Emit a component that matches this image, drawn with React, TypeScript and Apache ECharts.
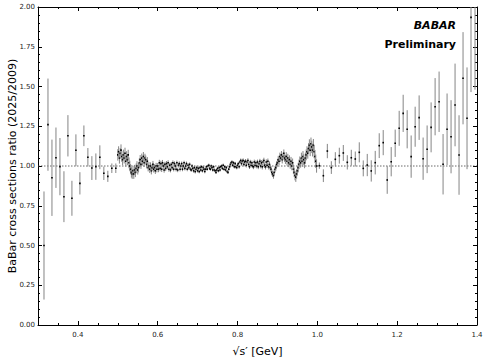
import React, { useEffect, useRef } from "react";
import * as echarts from "echarts";

// Low-mass region (sparse points)
const lowX = [0.315, 0.325, 0.335, 0.345, 0.355, 0.365, 0.375, 0.385, 0.395, 0.405, 0.415, 0.425, 0.435, 0.445, 0.455, 0.465, 0.475, 0.485, 0.495];
const lowY = [0.50, 1.26, 0.926, 1.052, 0.996, 0.807, 1.19, 0.797, 1.099, 0.891, 1.19, 1.055, 0.987, 0.996, 1.055, 0.954, 0.935, 0.986, 0.986];
const lowErr = [0.34, 0.29, 0.24, 0.19, 0.18, 0.16, 0.13, 0.11, 0.10, 0.07, 0.065, 0.058, 0.075, 0.083, 0.075, 0.042, 0.035, 0.03, 0.03];

// Dense region (0.500 .. 0.998, bins of 0.002)
const denseStart = 0.5;
const denseStep = 0.002;
const denseY = [
  1.07, 1.09, 1.05, 1.08, 1.10, 1.06, 1.04, 1.07, 1.05, 1.08,
  1.03, 1.06, 1.04, 1.07, 1.02, 1.00, 0.98, 0.96, 0.95, 0.97,
  0.95, 0.975, 0.96, 0.985, 1.00, 0.975, 0.99, 1.02, 1.04, 1.01,
  1.05, 1.03, 1.06, 1.02, 1.05, 1.04, 1.01, 1.03, 0.99, 1.00,
  0.98, 1.00, 0.97, 0.99, 1.01, 0.98, 0.99, 0.97, 1.00, 0.98,
  1.00, 0.98, 1.02, 0.985, 1.015, 0.98, 1.02, 1.00, 0.975, 1.01,
  0.985, 1.015, 0.995, 1.02, 0.98, 1.005, 0.975, 1.01, 0.99, 1.02,
  0.98, 1.015, 1.00, 0.98, 1.02, 0.975, 1.005, 1.015, 0.98, 1.00,
  1.015, 0.98, 1.00, 1.02, 0.985, 1.00, 1.015, 0.98, 1.005, 0.99,
  1.01, 0.98, 0.975, 1.00, 0.985, 0.97, 0.99, 0.965, 0.98, 0.99,
  0.97, 0.985, 0.965, 0.99, 0.975, 0.995, 0.97, 0.99, 0.98, 0.965,
  0.98, 0.995, 0.98, 1.00, 1.005, 0.985, 0.98, 1.00, 0.99, 0.975,
  0.995, 0.975, 0.97, 0.96, 0.975, 0.985, 0.97, 0.99, 0.975, 0.995,
  1.00, 0.985, 1.005, 0.98, 0.995, 0.975, 0.99, 0.965, 0.96, 0.98,
  0.995, 1.01, 1.02, 1.025, 1.005, 1.02, 0.995, 1.015, 0.995, 0.99,
  1.005, 1.015, 0.995, 1.025, 1.035, 1.015, 1.03, 1.035, 1.01, 1.025,
  1.03, 1.005, 1.025, 1.035, 1.01, 0.995, 1.025, 1.005, 1.02, 1.00,
  0.995, 1.025, 1.005, 1.02, 1.00, 1.025, 0.995, 1.015, 1.03, 1.00,
  1.02, 0.995, 1.025, 1.035, 1.005, 0.995, 1.025, 1.005, 1.03, 0.995,
  1.01, 0.99, 0.98, 0.96, 0.95, 0.94, 0.96, 0.98, 0.99, 1.01,
  1.02, 1.04, 1.03, 1.06, 1.05, 1.07, 1.04, 1.06, 1.08, 1.05,
  1.04, 1.06, 1.03, 1.05, 1.02, 1.04, 1.01, 1.03, 1.00, 1.02,
  0.98, 0.96, 0.94, 0.93, 0.95, 0.97, 0.99, 1.01, 1.03, 1.02,
  1.05, 1.03, 1.06, 1.04, 1.02, 1.05, 1.07, 1.09, 1.08, 1.11,
  1.13, 1.10, 1.14, 1.12, 1.10, 1.13, 1.09, 1.06, 1.03, 1.00,
];
const denseErr = [
  0.036, 0.034, 0.035, 0.033, 0.036, 0.034, 0.035, 0.033, 0.034, 0.035,
  0.034, 0.033, 0.035, 0.032, 0.034, 0.033, 0.032, 0.033, 0.031, 0.032,
  0.031, 0.032, 0.03, 0.031, 0.03, 0.029, 0.03, 0.028, 0.029, 0.028,
  0.028, 0.027, 0.028, 0.026, 0.027, 0.026, 0.025, 0.026, 0.024, 0.025,
  0.024, 0.023, 0.023, 0.022, 0.022, 0.021, 0.021, 0.02, 0.02, 0.02,
  0.019, 0.019, 0.019, 0.018, 0.018, 0.018, 0.018, 0.017, 0.017, 0.017,
  0.017, 0.016, 0.016, 0.016, 0.016, 0.015, 0.015, 0.015, 0.015, 0.015,
  0.014, 0.014, 0.014, 0.014, 0.014, 0.014, 0.014, 0.014, 0.014, 0.014,
  0.013, 0.013, 0.013, 0.013, 0.013, 0.013, 0.013, 0.013, 0.013, 0.013,
  0.012, 0.012, 0.012, 0.012, 0.012, 0.012, 0.012, 0.012, 0.012, 0.012,
  0.011, 0.011, 0.011, 0.011, 0.011, 0.011, 0.011, 0.011, 0.011, 0.011,
  0.01, 0.01, 0.01, 0.01, 0.01, 0.01, 0.01, 0.01, 0.01, 0.01,
  0.01, 0.01, 0.01, 0.01, 0.01, 0.01, 0.01, 0.01, 0.01, 0.01,
  0.01, 0.01, 0.01, 0.01, 0.01, 0.01, 0.01, 0.01, 0.01, 0.01,
  0.011, 0.011, 0.011, 0.011, 0.011, 0.011, 0.011, 0.011, 0.011, 0.011,
  0.012, 0.012, 0.012, 0.012, 0.012, 0.013, 0.013, 0.013, 0.013, 0.013,
  0.014, 0.014, 0.014, 0.014, 0.014, 0.014, 0.014, 0.014, 0.014, 0.014,
  0.015, 0.015, 0.015, 0.015, 0.015, 0.015, 0.015, 0.015, 0.015, 0.015,
  0.017, 0.017, 0.017, 0.017, 0.017, 0.017, 0.017, 0.017, 0.017, 0.017,
  0.019, 0.019, 0.019, 0.019, 0.019, 0.02, 0.02, 0.02, 0.02, 0.02,
  0.024, 0.024, 0.024, 0.024, 0.024, 0.024, 0.024, 0.024, 0.024, 0.024,
  0.027, 0.027, 0.027, 0.027, 0.027, 0.027, 0.027, 0.027, 0.027, 0.027,
  0.03, 0.03, 0.03, 0.03, 0.03, 0.03, 0.03, 0.03, 0.03, 0.03,
  0.034, 0.034, 0.034, 0.034, 0.034, 0.034, 0.034, 0.034, 0.034, 0.034,
  0.038, 0.038, 0.039, 0.039, 0.04, 0.04, 0.041, 0.041, 0.042, 0.042,
];

// High-mass region (sparse points)
const highX = [1.005, 1.015, 1.025, 1.035, 1.045, 1.055, 1.065, 1.075, 1.085, 1.095, 1.105, 1.115, 1.125, 1.135, 1.145, 1.155, 1.165, 1.175, 1.185, 1.195, 1.205, 1.215, 1.225, 1.235, 1.245, 1.255, 1.265, 1.275, 1.285, 1.295, 1.305, 1.315, 1.325, 1.335, 1.345, 1.355, 1.365, 1.375, 1.385, 1.395];
const highY = [1.002, 0.939, 1.094, 0.99, 1.042, 1.065, 1.082, 1.023, 1.052, 1.044, 1.086, 0.985, 1.006, 0.969, 1.021, 1.128, 1.147, 0.912, 1.027, 1.143, 1.237, 1.331, 1.231, 1.059, 1.247, 1.304, 1.046, 1.105, 1.243, 1.373, 1.404, 1.011, 1.231, 1.184, 1.384, 1.069, 1.552, 1.30, 1.935, 2.08];
const highErr = [0.02, 0.04, 0.045, 0.04, 0.045, 0.05, 0.05, 0.045, 0.05, 0.047, 0.063, 0.05, 0.07, 0.067, 0.074, 0.078, 0.079, 0.087, 0.092, 0.086, 0.11, 0.117, 0.12, 0.133, 0.126, 0.14, 0.133, 0.15, 0.157, 0.18, 0.19, 0.19, 0.225, 0.23, 0.26, 0.25, 0.29, 0.32, 0.47, 0.6];

const yTicks = [0, 0.25, 0.5, 0.75, 1.0, 1.25, 1.5, 1.75, 2.0];
const refLine = 1.0;

const FONT = '"DejaVu Sans", Verdana, sans-serif';

export default function App() {
  const ref = useRef<HTMLDivElement>(null);
  useEffect(() => {
    document.body.style.margin = "0";
    if (!ref.current) return;
    const chart = echarts.init(ref.current, undefined, { renderer: "svg" });

    const points: number[][] = [];
    lowX.forEach((x, i) => points.push([x, lowY[i], lowErr[i]]));
    denseY.forEach((y, i) => points.push([+(denseStart + i * denseStep).toFixed(3), y, denseErr[i]]));
    highX.forEach((x, i) => points.push([x, highY[i], highErr[i]]));

    const renderItem = (params: any, api: any) => {
      const x = api.value(0);
      const y = api.value(1);
      const e = api.value(2);
      const cs = params.coordSys;
      const p = api.coord([x, y]);
      const t = api.coord([x, y + e]);
      const b = api.coord([x, y - e]);
      const yTop = Math.max(t[1], cs.y);
      const yBot = Math.min(b[1], cs.y + cs.height);
      const children: any[] = [];
      if (yBot > yTop) {
        children.push({
          type: "line",
          shape: { x1: p[0], y1: yTop, x2: p[0], y2: yBot },
          style: { stroke: "#858585", lineWidth: 1 },
        });
      }
      if (p[1] >= cs.y && p[1] <= cs.y + cs.height) {
        children.push({
          type: "rect",
          shape: { x: p[0] - 0.8, y: p[1] - 0.8, width: 1.6, height: 1.6 },
          style: { fill: "#000" },
        });
      }
      return { type: "group", children };
    };

    const axisCommon = {
      type: "value",
      splitLine: { show: false },
      axisLine: { show: true, onZero: false, lineStyle: { color: "#000", width: 1 } },
      axisTick: { show: true, inside: true, length: 4, lineStyle: { color: "#000", width: 1 } },
      minorTick: { show: true, length: 2, lineStyle: { color: "#000", width: 1 } },
    };

    const xBase = {
      ...axisCommon,
      min: 0.3,
      max: 1.4,
      splitNumber: 5,
      minorTick: { ...axisCommon.minorTick, splitNumber: 4 },
    };
    const yBase = {
      ...axisCommon,
      min: yTicks[0],
      max: yTicks[yTicks.length - 1],
      interval: 0.25,
      minorTick: { ...axisCommon.minorTick, splitNumber: 5 },
    };

    chart.setOption({
      animation: false,
      grid: { left: 38, right: 11, top: 7, bottom: 39, containLabel: false, outerBoundsMode: "none" },
      xAxis: [
        {
          ...xBase,
          position: "bottom",
          name: "√s′ [GeV]",
          nameLocation: "middle",
          nameGap: 21,
          nameMoveOverlap: false,
          nameTextStyle: { fontFamily: FONT, fontSize: 11, color: "#000" },
          axisLabel: {
            show: true,
            showMinLabel: false,
            margin: 6,
            fontFamily: FONT,
            fontSize: 7,
            color: "#222",
            formatter: (v: number) => v.toFixed(1),
          },
        },
        {
          ...xBase,
          position: "top",
          axisLabel: { show: false },
        },
      ],
      yAxis: [
        {
          ...yBase,
          position: "left",
          name: "BaBar cross sections ratio (2025/2009)",
          nameLocation: "middle",
          nameGap: 20,
          nameMoveOverlap: false,
          nameTextStyle: { fontFamily: FONT, fontSize: 11, color: "#000" },
          axisLabel: {
            show: true,
            margin: 3,
            fontFamily: FONT,
            fontSize: 7,
            color: "#222",
            formatter: (v: number) => v.toFixed(2),
          },
        },
        {
          ...yBase,
          position: "right",
          axisLabel: { show: false },
        },
      ],
      series: [
        {
          type: "line",
          xAxisIndex: 0,
          yAxisIndex: 0,
          data: [[0.3, refLine], [1.4, refLine]],
          symbol: "none",
          silent: true,
          z: 1,
          lineStyle: { color: "#444", width: 0.8, type: [1.5, 1.5] },
        },
        {
          type: "custom",
          xAxisIndex: 0,
          yAxisIndex: 0,
          data: points,
          renderItem,
          clip: true,
          z: 2,
          encode: { x: 0, y: 1 },
        },
      ],
      graphic: [
        {
          type: "text",
          right: 32,
          top: 20,
          style: { text: "BABAR", font: `italic bold 11px ${FONT}`, fill: "#000" },
        },
        {
          type: "text",
          right: 32,
          top: 39,
          style: { text: "Preliminary", font: `bold 11px ${FONT}`, fill: "#000" },
        },
      ],
    });

    return () => chart.dispose();
  }, []);

  return <div ref={ref} style={{ width: 488, height: 364 }} />;
}
